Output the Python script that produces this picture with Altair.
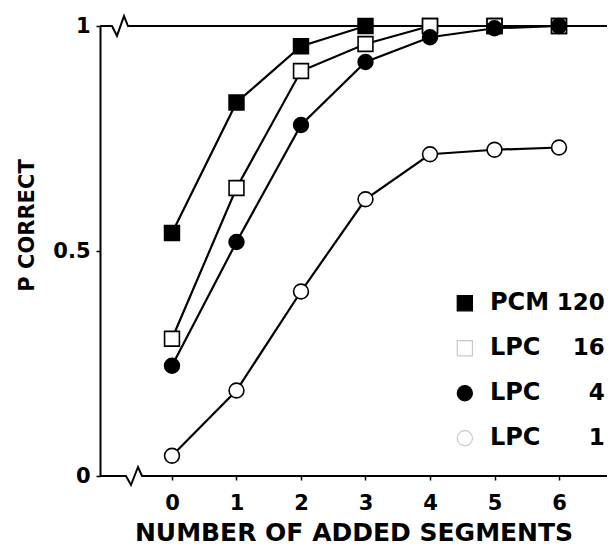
import altair as alt
import pandas as pd

# ---- data ----
segments = [0, 1, 2, 3, 4, 5, 6]
series_names = ["PCM 120", "LPC 16", "LPC 4", "LPC 1"]
pcm120 = [0.54, 0.83, 0.955, 1.0, 1.0, 1.0, 1.0]
lpc16 = [0.305, 0.64, 0.90, 0.96, 1.0, 1.0, 1.0]
lpc4 = [0.245, 0.52, 0.78, 0.92, 0.975, 0.995, 1.0]
lpc1 = [0.045, 0.19, 0.41, 0.615, 0.715, 0.725, 0.73]

legend_codec = ["PCM", "LPC", "LPC", "LPC"]
legend_rate = ["120", "16", "4", "1"]

x_ticks = [0, 1, 2, 3, 4, 5, 6]
y_ticks = [0, 0.5, 1]
x_domain = [-1.116, 6.744]

# axis-break frame lines (top border and bottom axis with zigzag)
top_x = [-1.116, -0.93, -0.853, -0.744, -0.682, 6.744]
top_y = [1, 1, 0.978, 1.022, 1, 1]
bot_x = [-1.116, -0.713, -0.636, -0.527, -0.465, 6.744]
bot_y = [0, 0, -0.02, 0.02, 0, 0]

# ---- tables ----
rows = []
for name, vals in zip(series_names, [pcm120, lpc16, lpc4, lpc1]):
    for s, v in zip(segments, vals):
        rows.append({"seg": s, "p": v, "series": name})
df = pd.DataFrame(rows)

leg = pd.DataFrame({"series": series_names, "codec": legend_codec,
                    "rate": legend_rate, "i": list(range(len(series_names)))})
top_df = pd.DataFrame({"x": top_x, "y": top_y, "k": list(range(len(top_x)))})
bot_df = pd.DataFrame({"x": bot_x, "y": bot_y, "k": list(range(len(bot_x)))})

FONT = "DejaVu Sans"

xscale = alt.Scale(domain=x_domain, nice=False, zero=False)
yscale = alt.Scale(domain=[0, 1], nice=False, zero=False)

shape_scale = alt.Scale(domain=series_names, range=["square", "square", "circle", "circle"])
fill_scale = alt.Scale(domain=series_names, range=["black", "white", "black", "white"])

X = alt.X("seg:Q", scale=xscale,
          axis=alt.Axis(values=x_ticks, format="d", title="NUMBER OF ADDED SEGMENTS",
                        domain=False, grid=False, tickSize=4, tickColor="black",
                        tickWidth=1.5,
                        labelFontSize=21, labelFont=FONT, labelFontWeight="bold",
                        labelColor="black", labelPadding=12,
                        titleFontSize=25, titleFont=FONT, titleFontWeight="bold",
                        titleColor="black", titlePadding=7))
Y = alt.Y("p:Q", scale=yscale,
          axis=alt.Axis(values=y_ticks, format="~g", title="P CORRECT", grid=False,
                        domainColor="black", domainWidth=2, tickSize=4,
                        tickColor="black", tickWidth=1.5,
                        labelFontSize=21, labelFont=FONT, labelFontWeight="bold",
                        labelColor="black", labelPadding=6,
                        titleFontSize=21, titleFont=FONT, titleFontWeight="bold",
                        titleColor="black", titleAngle=-90, titleX=-73, titleY=199,
                        titleAlign="center", titleBaseline="middle"))

base = alt.Chart(df)
lines = base.mark_line(color="black", strokeWidth=2.2).encode(
    x=X, y=Y, detail="series:N")
points = base.mark_point(filled=False, stroke="black", strokeWidth=1.6, size=220,
                         opacity=1).encode(
    x="seg:Q", y="p:Q",
    shape=alt.Shape("series:N", scale=shape_scale, legend=None),
    fill=alt.Fill("series:N", scale=fill_scale, legend=None))

top_line = alt.Chart(top_df).mark_line(color="black", strokeWidth=2).encode(
    x=alt.X("x:Q", scale=xscale), y=alt.Y("y:Q", scale=yscale), order="k:Q")
bot_line = alt.Chart(bot_df).mark_line(color="black", strokeWidth=2).encode(
    x=alt.X("x:Q", scale=xscale), y=alt.Y("y:Q", scale=yscale), order="k:Q")

legbase = alt.Chart(leg).transform_calculate(ly="0.384 - 0.1 * datum.i")
leg_marks = legbase.mark_point(size=230, strokeWidth=1.2, opacity=1).encode(
    x=alt.datum(4.54), y=alt.Y("ly:Q", scale=yscale),
    shape=alt.Shape("series:N", scale=shape_scale, legend=None),
    fill=alt.Fill("series:N", scale=fill_scale, legend=None),
    stroke=alt.Stroke("series:N", scale=alt.Scale(domain=series_names,
                      range=["black", "#c8c8c8", "black", "#c8c8c8"]), legend=None))
leg_codec = legbase.mark_text(align="left", baseline="middle", font=FONT,
                              fontWeight="bold", fontSize=24, color="black").encode(
    x=alt.datum(4.93), y=alt.Y("ly:Q", scale=yscale), text="codec:N")
leg_rate = legbase.mark_text(align="right", baseline="middle", font=FONT,
                             fontWeight="bold", fontSize=23, color="black").encode(
    x=alt.datum(6.71), y=alt.Y("ly:Q", scale=yscale), text="rate:N")

chart = alt.layer(lines, top_line, bot_line, points, leg_marks, leg_codec, leg_rate).properties(
    width=507, height=450,
    autosize=alt.AutoSizeParams(type="none"),
    padding={"left": 92, "top": 18, "right": 0, "bottom": 74},
    background="white",
).configure_view(stroke=None)

chart.save("out.html", embed_options={"renderer": "svg", "actions": False})
